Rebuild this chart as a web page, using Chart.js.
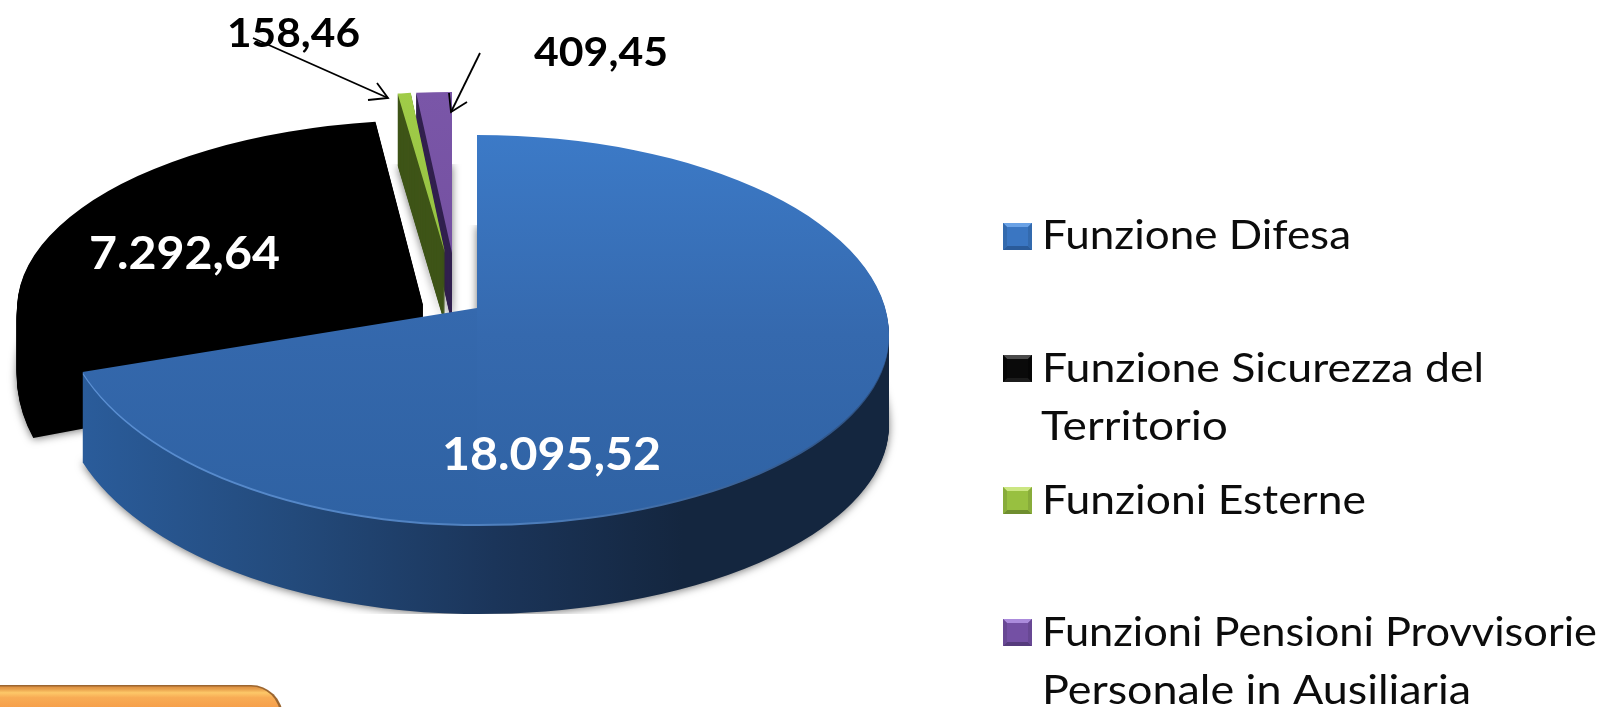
<!DOCTYPE html>
<html><head><meta charset="utf-8">
<style>html,body{margin:0;padding:0;background:#fff}canvas{display:block}</style>
<script src="https://cdn.jsdelivr.net/npm/chart.js@4"></script>
</head><body><canvas id="c" width="1616" height="707"></canvas>
<script>
const categories = ['Funzione Difesa','Funzione Sicurezza del Territorio','Funzioni Esterne','Funzioni Pensioni Provvisorie Personale in Ausiliaria'];
const values = [18095.52,7292.64,158.46,409.45];
const valueLabels = ['18.095,52','7.292,64','158,46','409,45'];
const legendLines = [['Funzione Difesa'],['Funzione Sicurezza del','Territorio'],['Funzioni Esterne'],['Funzioni Pensioni Provvisorie','Personale in Ausiliaria']];
const topColors = ['#3a75c0','#000000','#9bc544','#7a56a8'];
const sideColors = ['#1f3f6b','#000000','#3f5518','#32214f'];

// drawing style: how each slice of the tilted pie sits on the page
const R = 412;
const blueRight = [[-1,-173],[0,27],[1,216]];
const blueLeft = [[0,0],[.326,64],[1,216]];
const blackCurve = [[-1,-185],[0,0],[1,224]];
const greenCurve = [[-1,-161],[0,0],[1,161]];
const purpleCurve = [[-1,-161],[0,0],[1,161]];
const poses = [
  {ax:477,ay:308,skewUp:0,skewDown:0,depth:90,parts:[{sx:1.013,curve:blueLeft,x0:-50,x1:477},{sx:1,curve:blueRight,x0:477,x1:1700}]},
  {ax:423,ay:305,skewUp:-.0198,skewDown:-.045,depth:60,parts:[{sx:.985,curve:blackCurve,x0:-50,x1:1700}]},
  {ax:445,ay:253,skewUp:0,skewDown:0,depth:72,parts:[{sx:.84,curve:greenCurve,x0:-50,x1:1700}]},
  {ax:452,ay:253,skewUp:0,skewDown:0,depth:72,parts:[{sx:.88,curve:purpleCurve,x0:-50,x1:1700}]}
];
const drawOrder = [1,3,2,0];
const labelStyle = [
  {x:442,y:470,w:219,c:'#fff',f:'bold 46px Lato'},{x:89,y:269,w:191,c:'#fff',f:'bold 46px Lato'},
  {x:227,y:47,w:133,c:'#000',f:'bold 40px Lato'},{x:534,y:66,w:134,c:'#000',f:'bold 40px Lato'}
];
const arrows = [
  {from:[253,38],to:[388,98],h1:[377,83],h2:[368,100]},
  {from:[480,53],to:[451,112],h1:[449,93],h2:[467,102]}
];
const legendRows = [
  {sq:223,base:[249]},{sq:355,base:[382,440]},{sq:487,base:[514]},{sq:619,base:[646,704]}
];
const legendX = [[1042],[1042,1041],[1042],[1042,1042]];
const legendWidths = [[309],[442,187],[324],[555,429]];
const swatches = [
  {face:'#3a76c2',light:'#6aa2e6',dark:'#336aae',low:'#2a5b9a'},
  {face:'#0a0a0a',light:'#4a4a4a',dark:'#060606',low:'#1c1c1c'},
  {face:'#98c040',light:'#cbe682',dark:'#88ac3a',low:'#6f8e2f'},
  {face:'#7450a4',light:'#ab8bdc',dark:'#684894',low:'#553b7c'}
];

function fillFor(ctx,i,arc,side,rim){
  if(i===0&&rim){
    const g=ctx.createLinearGradient(arc.x-R,0,arc.x+R,0);
    g.addColorStop(0,'#5b90d4');g.addColorStop(.55,'#4e7fbd');g.addColorStop(1,'#2c4f80');
    return g;
  }
  if(i===0&&side){
    const g=ctx.createLinearGradient(arc.x-R,0,arc.x+R,0);
    g.addColorStop(0,'#2b5e9e');g.addColorStop(.28,'#234a7b');g.addColorStop(.52,'#1b355a');g.addColorStop(.75,'#14263f');g.addColorStop(1,'#14263f');
    return g;
  }
  if(side) return sideColors[i];
  const g=ctx.createLinearGradient(0,arc.y-R,0,arc.y+R);
  if(i===0){g.addColorStop(0,'#3c7ac7');g.addColorStop(.5,'#3569ae');g.addColorStop(1,'#2f62a3');return g;}
  if(i===2){g.addColorStop(0,'#a0cc48');g.addColorStop(1,'#8ab53c');return g;}
  if(i===3){g.addColorStop(0,'#7a56a8');g.addColorStop(1,'#6f4c9a');return g;}
  return topColors[i];
}
function drawBands(ctx,arc,p,dy){
  const yc=p.ay+dy;
  for(const part of p.parts){
    const c=part.curve;
    for(let j=0;j<c.length-1;j++){
      const [t0,s0]=c[j],[t1,s1]=c[j+1];
      const k=(s1-s0)/((t1-t0)*R);
      const skew=t1<=0?p.skewUp:p.skewDown;
      // the part above the pie's centre line may shed its shadow past the seam
      const x0=t1<=0?-50:part.x0, x1=part.x1;
      ctx.save();
      ctx.beginPath();
      ctx.rect(x0,yc+s0,x1-x0,s1-s0);
      ctx.clip();
      ctx.transform(part.sx,0,skew,k,p.ax,yc+s0-k*t0*R);
      ctx.translate(-arc.x,-arc.y);
      arc.draw(ctx);
      ctx.restore();
    }
  }
}
function fitText(ctx,t,x,y,w){
  const m=ctx.measureText(t).width;
  ctx.save();ctx.translate(x,y);ctx.scale(w/m,1);ctx.fillText(t,0,0);ctx.restore();
}
const tiltedPie = {
  id:'tiltedPie',
  beforeDatasetsDraw(chart){
    const ctx=chart.ctx, arcs=chart.getDatasetMeta(0).data;
    for(const i of drawOrder){
      const arc=arcs[i], p=poses[i], keep=arc.options.backgroundColor;
      const side=fillFor(ctx,i,arc,true,false), rim=fillFor(ctx,i,arc,true,true);
      for(let dy=p.depth;dy>=1;dy--){
        ctx.save();
        if(dy===p.depth){ctx.shadowColor='rgba(0,0,0,.55)';ctx.shadowBlur=8;ctx.shadowOffsetY=1;}
        arc.options.backgroundColor=dy<=2&&i===0?rim:side;
        drawBands(ctx,arc,p,dy);
        ctx.restore();
      }
      arc.options.backgroundColor=fillFor(ctx,i,arc,false,false);
      drawBands(ctx,arc,p,0);
      arc.options.backgroundColor=keep;
    }
    return false;
  },
  afterDraw(chart){
    const ctx=chart.ctx;
    ctx.save();
    ctx.textBaseline='alphabetic';ctx.textAlign='left';
    // value labels
    valueLabels.forEach((t,i)=>{const s=labelStyle[i];ctx.font=s.f;ctx.fillStyle=s.c;fitText(ctx,t,s.x,s.y,s.w);});
    // arrows
    ctx.strokeStyle='#000';ctx.lineWidth=1.8;
    for(const a of arrows){
      ctx.beginPath();ctx.moveTo(...a.from);ctx.lineTo(...a.to);ctx.stroke();
      ctx.beginPath();ctx.moveTo(...a.h1);ctx.lineTo(...a.to);ctx.lineTo(...a.h2);ctx.stroke();
    }
    // legend
    legendRows.forEach((r,i)=>{
      const x=1003,y=r.sq,w=29,h=27,b=4,s=swatches[i];
      ctx.fillStyle=s.face;ctx.fillRect(x,y,w,h);
      const poly=(pts,c)=>{ctx.fillStyle=c;ctx.beginPath();pts.forEach((q,n)=>n?ctx.lineTo(q[0],q[1]):ctx.moveTo(q[0],q[1]));ctx.fill();};
      poly([[x,y],[x+w,y],[x+w-b,y+b],[x+b,y+b]],s.light);
      poly([[x,y+h],[x+w,y+h],[x+w-b,y+h-b],[x+b,y+h-b]],s.low);
      poly([[x,y],[x+b,y+b],[x+b,y+h-b],[x,y+h]],s.dark);
      poly([[x+w,y],[x+w-b,y+b],[x+w-b,y+h-b],[x+w,y+h]],s.dark);
      ctx.fillStyle='#0c0c0c';ctx.font='40px Lato';
      legendLines[i].forEach((t,j)=>fitText(ctx,t,legendX[i][j],r.base[j],legendWidths[i][j]));
    });
    // orange box at the bottom-left corner
    ctx.fillStyle='#9c6630';
    ctx.beginPath();ctx.roundRect(-30,685,313,80,32);ctx.fill();
    const g=ctx.createLinearGradient(0,686,0,707);
    g.addColorStop(0,'#d98c3e');g.addColorStop(.15,'#e8a04c');g.addColorStop(.32,'#fdc868');g.addColorStop(.55,'#f8ac55');g.addColorStop(1,'#f6a04c');
    ctx.fillStyle=g;
    ctx.beginPath();ctx.roundRect(-30,686.5,310,80,29);ctx.fill();
    ctx.restore();
  }
};
new Chart(document.getElementById('c'),{
  type:'pie',
  data:{labels:categories,datasets:[{data:values,backgroundColor:topColors,borderWidth:0}]},
  options:{
    responsive:false,animation:false,radius:R,rotation:0,
    layout:{padding:0},
    plugins:{legend:{display:false},tooltip:{enabled:false},title:{display:false}}
  },
  plugins:[tiltedPie]
});
</script></body></html>
